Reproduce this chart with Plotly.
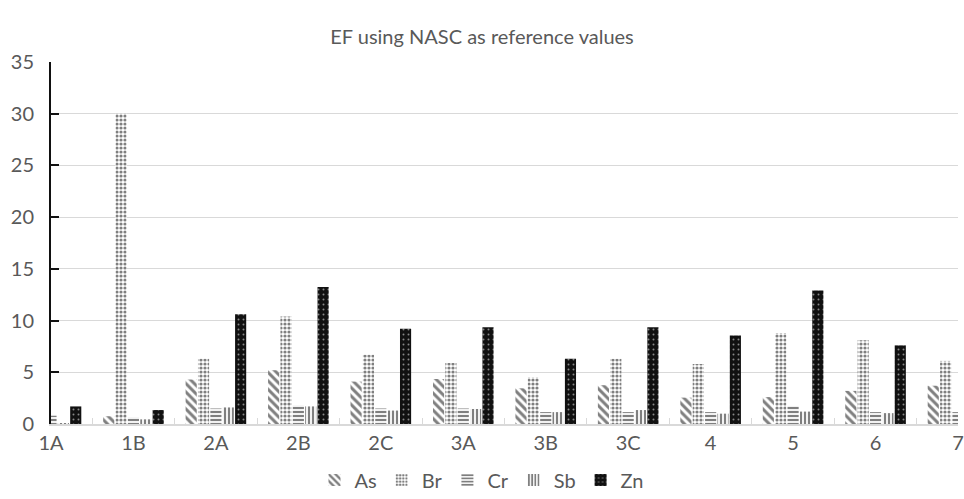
import plotly.graph_objects as go

categories = ["1A", "1B", "2A", "2B", "2C", "3A", "3B", "3C", "4", "5", "6", "7"]
as_vals = [0.7, 0.75, 4.3, 5.2, 4.1, 4.35, 3.45, 3.75, 2.55, 2.6, 3.2, 3.7]
br_vals = [1.0, 30.0, 6.3, 10.4, 6.7, 5.9, 4.5, 6.3, 5.8, 8.8, 8.1, 6.1]
cr_vals = [0.8, 0.65, 1.5, 1.8, 1.5, 1.5, 1.15, 1.15, 1.15, 1.75, 1.15, 1.15]
sb_vals = [0.05, 0.45, 1.6, 1.7, 1.3, 1.45, 1.15, 1.35, 1.0, 1.2, 1.05, 1.1]
zn_vals = [1.7, 1.35, 10.6, 13.25, 9.2, 9.35, 6.3, 9.35, 8.55, 12.9, 7.6, 8.0]

series = [
    ("As", as_vals, dict(shape="\\", fgcolor="#000000", bgcolor="white", size=6, solidity=0.5)),
    ("Br", br_vals, dict(shape=".", fgcolor="#000000", bgcolor="white", size=4, solidity=0.5)),
    ("Cr", cr_vals, dict(shape="-", fgcolor="#000000", bgcolor="white", size=4, solidity=0.55)),
    ("Sb", sb_vals, dict(shape="|", fgcolor="#000000", bgcolor="white", size=4, solidity=0.55)),
    ("Zn", zn_vals, dict(shape=".", fgcolor="white", bgcolor="#111111", size=5, solidity=0.12)),
]

fig = go.Figure()
for name, vals, pat in series:
    fig.add_trace(go.Bar(
        name=name, x=categories, y=vals,
        marker=dict(color="white", pattern=pat, line=dict(width=0)),
    ))

font_fam = "Lato, 'Open Sans', sans-serif"
grey = "#595959"

fig.update_layout(
    width=964, height=499,
    margin=dict(l=51, r=0, t=62, b=75),
    paper_bgcolor="white", plot_bgcolor="white",
    barmode="group", bargap=0.25, bargroupgap=0.1,
    font=dict(family=font_fam, color=grey, size=20),
    title=dict(text="EF using NASC as reference values", x=0.5, xref="container",
               xanchor="center", y=1 - 37 / 499, yref="container", yanchor="middle",
               font=dict(size=20, color=grey, family=font_fam)),
    legend=dict(orientation="h", xref="container", x=0.5, xanchor="center",
                yref="container", y=1 - 480 / 499, yanchor="middle",
                font=dict(size=20, color=grey), itemwidth=30, traceorder="normal"),
    xaxis=dict(type="category", range=[0, 11], showline=True, linecolor="#d9d9d9", linewidth=1.5,
               ticks="inside", tickson="boundaries", ticklen=6, tickcolor="#d9d9d9",
               showgrid=False, tickfont=dict(size=20, color=grey)),
    yaxis=dict(range=[0, 35], dtick=5, showline=True, linecolor="#111111", linewidth=2,
               ticks="inside", ticklen=8, tickcolor="#111111", tickwidth=1.5,
               showgrid=True, gridcolor="#d9d9d9", gridwidth=1, zeroline=False,
               ticklabelstandoff=11, tickfont=dict(size=20, color=grey)),
)

fig.write_html("out.html", config={"displayModeBar": False},
               post_script="document.body.style.margin='0';")
